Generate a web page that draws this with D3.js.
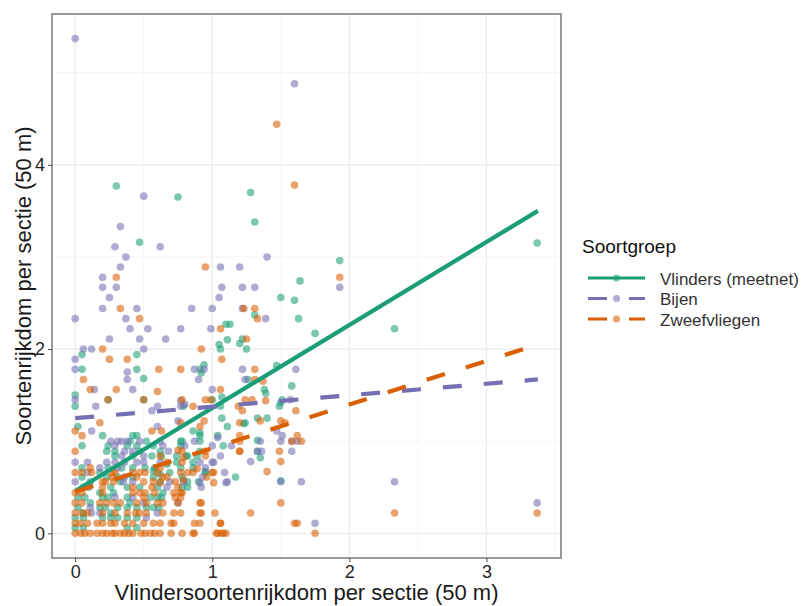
<!DOCTYPE html>
<html><head><meta charset="utf-8">
<script src="https://cdn.jsdelivr.net/npm/d3@7"></script>
<style>body{margin:0;background:#fff;} svg{display:block;font-family:"Liberation Sans",Arial,sans-serif;}</style>
</head><body><svg id="c" width="803" height="606"></svg>
<script>
const groups = ["Vlinders (meetnet)", "Bijen", "Zweefvliegen"];
const colors = ["#1B9E77", "#7570B3", "#D95F02"];
const xTicks = [0, 1, 2, 3];
const yTicks = [0, 2, 4];
const xLabel = "Vlindersoortenrijkdom per sectie (50 m)";
const yLabel = "Soortenrijkdom per sectie (50 m)";
const legendTitle = "Soortgroep";

const vlinders = [[0.30,3.77],[0.75,3.65],[1.28,3.70],[1.31,3.38],[0.47,3.16],[1.64,2.74],[1.50,2.56],[1.60,2.53],[1.93,2.96],[1.31,2.37],[1.63,2.33],[1.75,2.17],[1.22,2.11],[1.20,2.06],[1.25,2.00],[1.13,2.27],[1.47,1.82],[1.58,1.60],[1.39,1.52],[1.50,1.42],[1.23,1.19],[1.40,1.25],[1.33,1.01],[1.35,0.82],[1.50,0.57],[2.33,2.22],[3.37,3.15],
[0.05,1.94],[0.45,1.94],[0.50,1.68],[0,1.50],[1.10,2.27],[1.05,2.05],[1.06,2.00],[0.94,1.83],[0.92,1.74],
[1.11,2.10],[0.05,1.78],[0.45,1.78],[0.91,1.78],[1.26,1.67],[1.38,1.56],[0.24,1.45],[0.50,1.45],[1.00,1.45],[1.51,1.45],[0,1.38],[0.79,1.38],[1.06,1.38],[1.49,1.38],[1.33,1.25],[1.24,1.20],[0.02,1.16],[1.11,1.16],[0.86,1.11],
[0.20,1.06],[0.42,1.06],[0.45,1.06],[0.91,1.06],[1.04,1.06],[0.40,1.00],[0.52,1.00],[0.78,1.00],[0.91,1.00],
[0.05,0.95],[0.24,0.95],[0.38,0.95],[0.45,0.95],[0.57,0.95],[0.77,0.95],[1.08,0.95],
[0.23,0.89],[0.29,0.89],[0.47,0.89],[0.62,0.89],[0.91,0.89],[1.33,0.89],
[0.29,0.84],[0.42,0.84],[0.56,0.84],[0.74,0.84],[0.82,0.84],[0.89,0.84],
[0.74,0.77],[0.86,0.77],
[0.05,0.71],[0.24,0.71],[0.34,0.71],[0.42,0.71],[0.51,0.71],[0.58,0.71],[0.77,0.71],[0.86,0.71],
[0.18,0.66],[0.69,0.66],[0.95,0.66],
[0.05,0.61],[0.23,0.61],[0.31,0.61],[0.42,0.61],[0.57,0.61],[0.78,0.61],[1.17,0.61],
[0.11,0.56],[0.33,0.56],[0.62,0.56],[0.82,0.56],[0.90,0.56],
[0.06,0.50],[0.26,0.50],[0.38,0.50],[0.47,0.50],[0.60,0.50],[0.78,0.50],[0.82,0.50],
[0.18,0.44],[0.28,0.44],[0.64,0.44],
[0.02,0.39],[0.07,0.39],[0.20,0.39],[0.24,0.39],[0.38,0.39],[0.55,0.39],[0.60,0.39],[0.63,0.39],
[0.11,0.33],[0.40,0.33],
[0.02,0.28],[0.18,0.28],[0.22,0.28],[0.31,0.28],[0.38,0.28],[0.45,0.28],[0.52,0.28],[0.57,0.28],[0.61,0.28],
[0.06,0.22],[0.26,0.22],
[0,0.17],[0.06,0.17],[0.20,0.17],[0.26,0.17],[0.31,0.17],[0.38,0.17],[0.45,0.17],
[0,0.06],[0.06,0.06],[0.38,0.06],[0.45,0.06],
[1.07,1.48],[1.07,1.25],[0.91,1.09],[0.77,1.00],[0.81,0.84],[0.95,0.67],[0.63,0.84],[0.67,0.75],[0.62,0.64],[0.57,0.68]];

const bijen = [[0,5.37],[1.60,4.88],[0.50,3.66],[0.33,3.33],[0.29,3.11],[0.62,3.11],[0.37,3.00],[1.40,3.00],[1.06,2.89],[1.20,2.89],[0.33,2.89],[0.20,2.78],[0.20,2.67],[0.30,2.67],[1.07,2.67],[1.22,2.67],[1.31,2.67],[0.25,2.56],[1.05,2.56],[1.93,2.67],[1.22,2.44],[1.39,2.33],[1.22,1.78],[1.24,1.67],[1.61,1.78],[1.47,1.11],[1.50,1.00],[1.62,1.00],[1.58,0.89],[1.33,0.89],[1.36,0.89],[1.28,0.78],[1.50,0.56],[1.65,0.56],[1.75,0.11],[2.33,0.56],[3.37,0.33],
[0.20,2.44],[0.45,2.44],[0,2.33],[0.37,2.33],[0.40,2.22],[0.53,2.22],[0.25,2.11],[0.47,2.11],[0.06,2.00],[0.12,2.00],[0.50,2.00],[0,1.89],[0,1.78],[0.38,1.75],[0.14,1.56],[0.42,1.56],[0.85,2.44],[1.00,2.44],[0.77,2.22],[0.99,2.22],[0.66,2.11],[0.87,1.78],[0.94,1.78],[0.90,1.67],[0.77,1.44],
[0.38,1.67],[1.00,1.56],[0,1.45],[1.57,1.45],[0.15,1.38],[0.60,1.38],[0.77,1.38],[0.60,1.16],[0.12,1.11],[1.51,1.06],
[0.26,1.00],[0.31,1.00],[0.34,1.00],[0.38,1.00],[0.47,1.00],[0.62,1.00],[1.35,1.00],[1.58,1.00],
[0.29,0.95],[0.64,0.95],[0.80,0.95],[1.00,0.95],[1.14,0.95],
[0.36,0.89],[0.42,0.89],[0.68,0.89],
[0.34,0.84],[0.50,0.84],[1.06,0.84],
[0,0.77],[0.09,0.77],[0.23,0.77],[0.29,0.77],[0.36,0.77],[0.45,0.77],[0.50,0.77],[0.62,0.77],[0.91,0.77],[1.00,0.77],
[0.18,0.71],[0.31,0.71],[0.95,0.71],
[0.09,0.66],[1.09,0.66],
[0.36,0.61],[0.93,0.61],
[0,0.56],[0.35,0.56],[0.42,0.56],[0.69,0.56],[0.79,0.56],[1.11,0.56],
[0.10,0.50],[0.67,0.50],[0.92,0.50],
[0.29,0.39],[0.42,0.39],
[0.50,0.33],[0.75,0.33],
[0.11,0.28],
[0.12,0.22],[0.18,0.22],[0.60,0.22],
[0.52,0.17],
[0.80,1.40],[0.56,1.33],[0.75,1.22],[1.04,1.04],[0.87,1.00],[1.01,0.77],[0.91,0.55],[1.10,0.55]];

const zweefvliegen = [[1.47,4.44],[1.60,3.78],[0.95,2.89],[0.30,2.78],[1.93,2.78],[1.23,2.44],[1.31,2.44],[1.33,2.33],[1.25,2.11],[1.31,1.67],[1.37,1.65],[1.39,1.44],[1.22,1.33],[1.35,1.22],[1.61,1.33],[1.50,1.22],[1.20,1.00],[1.20,0.89],[1.58,1.00],[1.65,1.00],[1.50,0.78],[1.40,0.67],[1.50,0.33],[1.28,0.22],[1.62,0.11],[1.75,0],[2.33,0.22],[3.37,0.22],
[0.33,2.44],[0.47,2.33],[0.20,2.00],[0.25,1.89],[0.38,1.89],[0.06,1.67],[0.11,1.56],[0.30,1.56],[1.06,2.22],[0.92,2.00],[1.07,1.89],[0.61,1.78],[0.77,1.78],[0.60,1.54],
[1.31,1.78],[1.06,1.56],
[0.24,1.45],[0.50,1.45],[0.78,1.45],[0.95,1.45],[1.24,1.45],[1.29,1.45],
[0.86,1.38],[1.19,1.38],
[0.18,1.20],[0.77,1.20],[1.20,1.20],[1.53,1.20],
[0.91,1.16],
[0,1.11],[0.56,1.11],[0.63,1.11],
[0.05,1.06],[1.20,1.06],[1.62,1.06],
[0,0.89],[0.78,0.89],[0.95,0.89],[1.20,0.89],[1.49,0.89],
[0.62,0.84],[0.95,0.84],
[0.67,0.77],[0.78,0.77],
[0.11,0.71],[0.62,0.71],
[0,0.66],[0.05,0.66],[0.12,0.66],[0.27,0.66],[0.29,0.66],[0.42,0.66],[0.47,0.66],[0.51,0.66],[0.60,0.66],[0.77,0.66],[0.82,0.66],[0.86,0.66],[1.00,0.66],
[0.27,0.61],[0.45,0.61],[0.64,0.61],[0.67,0.61],[0.96,0.61],
[0.20,0.56],[0.22,0.56],[0.28,0.56],[0.50,0.56],[0.57,0.56],[0.73,0.56],
[0.20,0.50],[0.42,0.50],[0.56,0.50],[0.75,0.50],
[0,0.44],[0.05,0.44],[0.20,0.44],[0.42,0.44],[0.47,0.44],[0.51,0.44],[0.58,0.44],[0.72,0.44],[0.78,0.44],
[0.50,0.39],[0.73,0.39],[0.77,0.39],
[0,0.33],[0.05,0.33],[0.18,0.33],[0.23,0.33],[0.28,0.33],[0.33,0.33],[0.45,0.33],[0.52,0.33],[0.60,0.33],[0.64,0.33],[0.91,0.33],
[0,0.22],[0.05,0.22],[0.09,0.22],[0.20,0.22],[0.29,0.22],[0.38,0.22],[0.44,0.22],[0.47,0.22],[0.52,0.22],[0.64,0.22],[0.72,0.22],[0.77,0.22],[0.91,0.22],[1.02,0.22],
[0,0.11],[0.04,0.11],[0.09,0.11],[0.16,0.11],[0.20,0.11],[0.26,0.11],[0.29,0.11],[0.36,0.11],[0.42,0.11],[0.50,0.11],[0.57,0.11],[0.62,0.11],[0.72,0.11],[0.87,0.11],[1.06,0.11],[1.60,0.11],
[0,0],[0.04,0],[0.07,0],[0.11,0],[0.16,0],[0.20,0],[0.23,0],[0.27,0],[0.29,0],[0.33,0],[0.36,0],[0.39,0],[0.42,0],[0.48,0],[0.51,0],[0.55,0],[0.58,0],[0.62,0],[0.70,0],[0.78,0],[0.86,0],[1.03,0],[1.07,0],[1.10,0],
[0.99,1.45],[0.94,1.22],[0.75,0.90],[0.79,0.82],[0.89,0.70],[1.01,0.66],[1.01,0.55],[0.79,0.58],[0.77,0.44],[0.75,0.33],[0.92,0.33],[0.92,0.22],[0.70,0.11],[0.91,0.11],[1.06,0.11],[0.87,0],[1.04,0],[1.08,0],[0.62,0.55]];

// fitted trend lines: y at x = trendX[0] and trendX[1]
const trendX = [0, 3.375];
const trendVlinders = [0.46, 3.50];
const trendBijen = [1.25, 1.67];
const trendZweefvliegen = [0.45, 2.05];

const pointSets = [vlinders, bijen, zweefvliegen];
const trends = [trendVlinders, trendBijen, trendZweefvliegen];
const dashes = [null, "19,22", "19,22"];

const svg = d3.select("#c");
const W = 803, H = 606;
const pl = 52, pr = 561, pt = 14, pb = 558;
const x = d3.scaleLinear().domain([-0.169, 3.544]).range([pl, pr]);
const y = d3.scaleLinear().domain([-0.268, 5.637]).range([pb, pt]);

svg.append("rect").attr("width", W).attr("height", H).attr("fill", "#fff");

// grid
const g = svg.append("g");
const minorX = [0.5, 1.5, 2.5, 3.5], minorY = [1, 3, 5];
g.selectAll(".mx").data(minorX).join("line").attr("x1", d => x(d)).attr("x2", d => x(d)).attr("y1", pt).attr("y2", pb).attr("stroke", "#f2f2f2").attr("stroke-width", 0.8);
g.selectAll(".my").data(minorY).join("line").attr("x1", pl).attr("x2", pr).attr("y1", d => y(d)).attr("y2", d => y(d)).attr("stroke", "#f2f2f2").attr("stroke-width", 0.8);
g.selectAll(".gx").data(xTicks).join("line").attr("x1", d => x(d)).attr("x2", d => x(d)).attr("y1", pt).attr("y2", pb).attr("stroke", "#ebebeb").attr("stroke-width", 1.3);
g.selectAll(".gy").data(yTicks).join("line").attr("x1", pl).attr("x2", pr).attr("y1", d => y(d)).attr("y2", d => y(d)).attr("stroke", "#ebebeb").attr("stroke-width", 1.3);

// points
pointSets.forEach((pts, i) => {
  svg.append("g").selectAll("circle").data(pts).join("circle")
    .attr("cx", d => x(d[0])).attr("cy", d => y(d[1])).attr("r", 3.8)
    .attr("fill", colors[i]).attr("fill-opacity", 0.58);
});

// trend lines
const line = d3.line().x(d => x(d[0])).y(d => y(d[1]));
trends.forEach((t, i) => {
  const p = svg.append("path").datum([[trendX[0], t[0]], [trendX[1], t[1]]])
    .attr("d", line).attr("fill", "none").attr("stroke", colors[i]).attr("stroke-width", 4.2);
  if (dashes[i]) p.attr("stroke-dasharray", dashes[i]);
});

// panel border
svg.append("rect").attr("x", pl).attr("y", pt).attr("width", pr - pl).attr("height", pb - pt)
  .attr("fill", "none").attr("stroke", "#8f8f8f").attr("stroke-width", 1.8);

// axes
const xAxis = svg.append("g").attr("transform", `translate(0,${pb})`)
  .call(d3.axisBottom(x).tickValues(xTicks).tickSize(4).tickPadding(3).tickFormat(d3.format("d")));
const yAxis = svg.append("g").attr("transform", `translate(${pl},0)`)
  .call(d3.axisLeft(y).tickValues(yTicks).tickSize(4).tickPadding(3).tickFormat(d3.format("d")));
[xAxis, yAxis].forEach(a => {
  a.select(".domain").remove();
  a.selectAll(".tick line").attr("stroke", "#4d4d4d").attr("stroke-width", 1);
  a.selectAll(".tick text").attr("fill", "#1f1f1f").attr("font-size", 18).attr("font-family", "Liberation Sans, Arial, sans-serif");
});

svg.append("text").attr("x", (pl + pr) / 2).attr("y", 600).attr("text-anchor", "middle")
  .attr("font-size", 22).attr("fill", "#1a1a1a").text(xLabel);
svg.append("text").attr("transform", `translate(31,${(pt + pb) / 2}) rotate(-90)`).attr("text-anchor", "middle")
  .attr("font-size", 22).attr("fill", "#1a1a1a").text(yLabel);

// legend
const lg = svg.append("g");
lg.append("text").attr("x", 582).attr("y", 253).attr("font-size", 19).attr("fill", "#111").text(legendTitle);
groups.forEach((name, i) => {
  const yy = 278 + i * 20.5;
  const l = lg.append("line").attr("x1", 588).attr("x2", 645).attr("y1", yy).attr("y2", yy)
    .attr("stroke", colors[i]).attr("stroke-width", 3.2);
  if (dashes[i]) l.attr("stroke-dasharray", "19,22");
  lg.append("circle").attr("cx", 616.5).attr("cy", yy).attr("r", 3.5).attr("fill", colors[i]).attr("fill-opacity", 0.58);
  lg.append("text").attr("x", 660).attr("y", yy + 6.5).attr("font-size", 17).attr("fill", "#333").text(name);
});
</script></body></html>
